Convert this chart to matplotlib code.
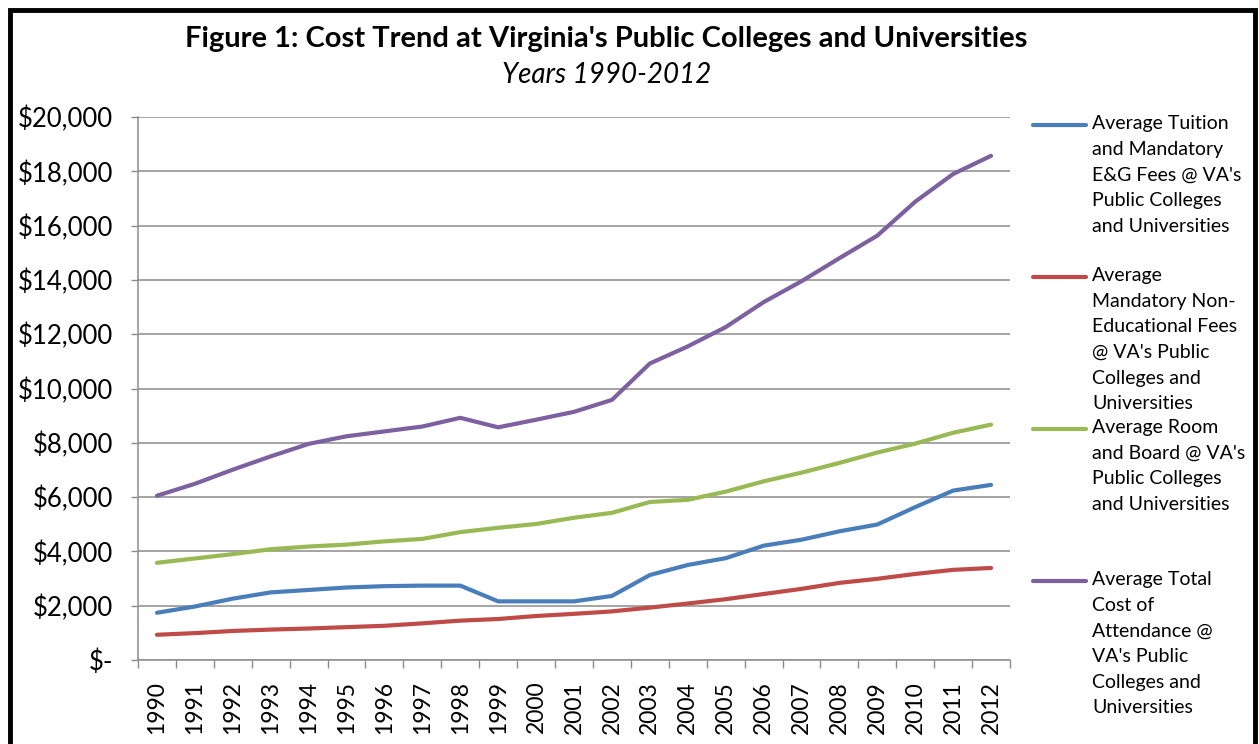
import matplotlib
matplotlib.use("Agg")
import matplotlib.pyplot as plt
from matplotlib.lines import Line2D
from matplotlib.patches import Rectangle
from matplotlib.ticker import FuncFormatter, FixedLocator

plt.rcParams['font.family'] = ['Lato', 'DejaVu Sans']

years = [str(y) for y in range(1990, 2013)]

tuition = [1740, 1970, 2260, 2490, 2580, 2670, 2720, 2740, 2740, 2160, 2160, 2160,
           2360, 3130, 3500, 3750, 4210, 4430, 4740, 4990, 5630, 6240, 6450]
non_edu = [930, 990, 1070, 1120, 1160, 1210, 1260, 1350, 1450, 1510, 1620, 1700,
           1790, 1930, 2080, 2240, 2430, 2620, 2840, 2990, 3170, 3320, 3390]
room_board = [3580, 3740, 3900, 4080, 4180, 4250, 4370, 4460, 4710, 4870, 5010, 5240,
              5420, 5820, 5900, 6200, 6580, 6900, 7260, 7640, 7970, 8370, 8670]
total = [6050, 6490, 7010, 7500, 7960, 8240, 8420, 8600, 8920, 8570, 8850, 9140,
         9580, 10920, 11550, 12260, 13180, 13950, 14800, 15630, 16880, 17900, 18570]

series = [
    ("Average Tuition\nand Mandatory\nE&G Fees @ VA's\nPublic Colleges\nand Universities", tuition, '#4A7EBB'),
    ("Average\nMandatory Non-\nEducational Fees\n@ VA's Public\nColleges and\nUniversities", non_edu, '#BE4B48'),
    ("Average Room\nand Board @ VA's\nPublic Colleges\nand Universities", room_board, '#98B954'),
    ("Average Total\nCost of\nAttendance @\nVA's Public\nColleges and\nUniversities", total, '#7D60A0'),
]

W, H = 1259, 744
fig = plt.figure(figsize=(W / 100, H / 100), dpi=100)
ax = fig.add_axes([138 / W, 1 - 660 / H, (1010 - 138) / W, (660 - 117) / H])

x = list(range(len(years)))
for label, vals, col in series:
    ax.plot(x, vals, color=col, lw=3.0, solid_capstyle='round', zorder=3)

ax.set_xlim(-0.5, len(years) - 0.5)
ax.set_ylim(0, 20000)
ax.set_yticks(range(0, 20001, 2000))
ax.yaxis.set_major_formatter(FuncFormatter(lambda v, p: "$-" if v == 0 else "${:,.0f}".format(v)))
ax.grid(axis='y', color='#8c8c8c', lw=1.1, zorder=1)
ax.set_axisbelow(True)

ax.set_xticks(x)
ax.set_xticklabels(years, rotation=90)
ax.xaxis.set_minor_locator(FixedLocator([i - 0.5 for i in range(len(years) + 1)]))
ax.tick_params(axis='x', which='major', length=0, pad=15, labelsize=16.5)
ax.tick_params(axis='x', which='minor', length=6, width=1, color='#8c8c8c')
ax.tick_params(axis='y', length=5, width=1, color='#8c8c8c', pad=13, labelsize=18.5)

for s in ['top', 'right']:
    ax.spines[s].set_visible(False)
for s in ['left', 'bottom']:
    ax.spines[s].set_color('#8c8c8c')
    ax.spines[s].set_linewidth(1.1)

# Title
fig.text(606 / W, 1 - 39 / H, "Figure 1: Cost Trend at Virginia's Public Colleges and Universities",
         ha='center', va='center', fontsize=21, fontweight='bold')
fig.text(607 / W, 1 - 75 / H, "Years 1990-2012", ha='center', va='center',
         fontsize=20, fontstyle='italic')

# Legend (manual, Excel-like layout)
for i, (label, vals, col) in enumerate(series):
    yc = 125 + 152 * i
    fig.add_artist(Line2D([1033 / W, 1086 / W], [1 - yc / H, 1 - yc / H], color=col, lw=3.0,
                          transform=fig.transFigure, solid_capstyle='round'))
    fig.text(1092 / W, 1 - (yc - 10) / H, label, ha='left', va='top', fontsize=14,
             linespacing=1.62)

# Border
fig.add_artist(Rectangle((10 / W, -0.2), (1255 - 10) / W, 1.2 - 10 / H, transform=fig.transFigure,
                         fill=False, edgecolor='black', lw=3.5))

fig.savefig("out.png", dpi=100, facecolor='white')
